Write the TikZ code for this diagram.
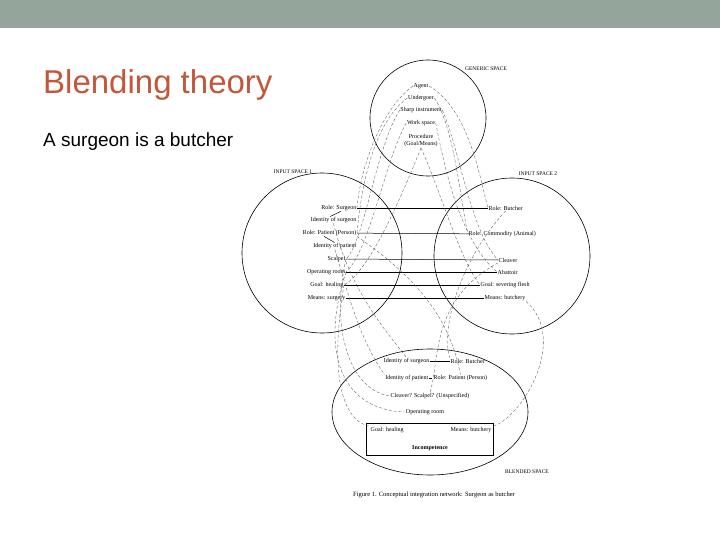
\documentclass[tikz,border=0pt]{standalone}
\usepackage{fontspec}
\usetikzlibrary{shapes.geometric,calc}
\setmainfont{Liberation Serif}
\newfontfamily\sansf{Liberation Sans}
\definecolor{band}{RGB}{148,166,155}
\definecolor{ttl}{RGB}{196,86,58}
\begin{document}
\begin{tikzpicture}[x=1pt,y=-1pt,
  lab/.style={font=\fontsize{6}{7}\selectfont, inner sep=0.5pt},
  spacelabel/.style={font=\fontsize{5.5}{6}\selectfont, inner sep=0pt},
  space/.style={draw, line width=0.6pt},
  conn/.style={line width=0.5pt},
  dconn/.style={densely dashed, line width=0.35pt, gray!70!black}]
\useasboundingbox (0,0) rectangle (720,540);
\fill[band] (0,0) rectangle (720,28);
\node[anchor=west, text=ttl, font=\sansf\fontsize{33}{36}\selectfont, inner sep=0] (title) at (43,85) {Blending theory};
\node[anchor=west, font=\sansf\fontsize{19}{22}\selectfont, inner sep=0] (sub) at (43,142) {A surgeon is a butcher};
% spaces
\node[space, circle, minimum size=116] (G) at (428,118) {};
\node[space, circle, minimum size=160] (I1) at (322,253) {};
\node[space, circle, minimum size=156] (I2) at (512,256) {};
\node[space, ellipse, minimum width=196, minimum height=126] (B) at (430,412) {};
% labels
\node[spacelabel] (gs) at (486,69) {GENERIC SPACE};
\node[spacelabel] (is1) at (293,172) {INPUT SPACE 1};
\node[spacelabel] (is2) at (538,174) {INPUT SPACE 2};
\node[spacelabel] (bs) at (527,472) {BLENDED SPACE};
\node[lab, font=\fontsize{6.5}{7}\selectfont] (fig) at (434,495) {Figure 1. Conceptual integration network: Surgeon as butcher};
% generic
\node[lab] (g1) at (421,86) {Agent};
\node[lab] (g2) at (421,98) {Undergoer};
\node[lab] (g3) at (421,110) {Sharp instrument};
\node[lab] (g4) at (421,123) {Work space};
\node[lab, align=center] (g5) at (421,141) {Procedure\\(Goal/Means)};
% input 1
\node[lab, anchor=east] (a1) at (357,208) {Role: Surgeon};
\node[lab, anchor=east] (a2) at (357,220) {Identity of surgeon};
\node[lab, anchor=east] (a3) at (357,233) {Role: Patient (Person)};
\node[lab, anchor=east] (a4) at (357,246) {Identity of patient};
\node[lab, anchor=east] (a5) at (346,259) {Scalpel};
\node[lab, anchor=east] (a6) at (346,272) {Operating room};
\node[lab, anchor=east] (a7) at (344,285) {Goal: healing};
\node[lab, anchor=east] (a8) at (346,298) {Means: surgery};
\draw[conn] ($(a1.south west)+(20,0)$) -- ($(a2.north west)+(20,0)$);
\draw[conn] ($(a3.south west)+(22,0)$) -- ($(a4.north west)+(22,0)$);
% input 2
\node[lab, anchor=west] (b1) at (488,208) {Role: Butcher};
\node[lab, anchor=west] (b2) at (468,234) {Role: Commodity (Animal)};
\node[lab, anchor=west] (b3) at (498,260) {Cleaver};
\node[lab, anchor=west] (b4) at (497,272) {Abattoir};
\node[lab, anchor=west] (b5) at (480,285) {Goal: severing flesh};
\node[lab, anchor=west] (b6) at (484,298) {Means: butchery};
% cross-space mappings
\draw[conn] (a1) -- (b1);
\draw[conn] (a3) -- (b2);
\draw[conn] (a5) -- (b3);
\draw[conn] (a6) -- (b4);
\draw[conn] (a7) -- (b5);
\draw[conn] (a8) -- (b6);
% blended
\node[lab, anchor=east] (c1) at (430,361) {Identity of surgeon};
\node[lab, anchor=west] (c2) at (450,361) {Role: Butcher};
\node[lab, anchor=east] (c3) at (429,378) {Identity of patient};
\node[lab, anchor=west] (c4) at (433,378) {Role: Patient (Person)};
\node[lab] (c5) at (430,396) {Cleaver? Scalpel? (Unspecified)};
\node[lab] (c6) at (425,412) {Operating room};
\node[draw, line width=0.6pt, minimum width=127, minimum height=32] (box) at (430,439) {};
\node[lab, anchor=west] (c7) at (370,430) {Goal: healing};
\node[lab, anchor=east] (c8) at (492,430) {Means: butchery};
\node[lab, font=\bfseries\fontsize{6}{7}\selectfont] (c9) at (430,448) {Incompetence};
\draw[conn] (c1) -- (c2);
\draw[conn, dashed] (c3) -- (c4);
% generic to inputs
\draw[dconn] (g1.east) .. controls (470,110) and (480,180) .. (b1.west);
\draw[dconn] (g1.west) .. controls (380,110) and (360,170) .. (a1.east);
\draw[dconn] (g2.east) .. controls (455,130) and (460,200) .. (b2.west);
\draw[dconn] (g2.west) .. controls (370,125) and (360,200) .. (a3.east);
\draw[dconn] (g3.east) .. controls (460,150) and (470,230) .. (b3.west);
\draw[dconn] (g3.west) .. controls (375,150) and (365,240) .. (a5.east);
\draw[dconn] (g4.east) .. controls (445,170) and (460,240) .. (b4.west);
\draw[dconn] (g4.west) .. controls (385,160) and (370,250) .. (a6.east);
\draw[dconn] (g5.south) .. controls (440,190) and (460,260) .. (b5.west);
\draw[dconn] (g5.south) .. controls (400,200) and (370,270) .. (a7.east);
% inputs to blend
\draw[dconn] (a2.south) .. controls (350,290) and (385,330) .. (c1.north);
\draw[dconn] (a4.south) .. controls (350,300) and (360,340) .. (c3.north west);
\draw[dconn] (b1.south) .. controls (460,260) and (440,330) .. (c2.north west);
\draw[dconn] (a3.south east) .. controls (420,280) and (450,320) .. (c4.north);
\draw[dconn] (a5.east) .. controls (330,330) and (350,390) .. (c5.west);
\draw[dconn] (b3.south west) .. controls (430,300) and (440,360) .. (c5.north);
\draw[dconn] (a6.east) .. controls (320,350) and (340,410) .. (c6.west);
\draw[dconn] (a7.east) .. controls (330,370) and (340,420) .. (c7.north west);
\draw[dconn] (b6.south east) .. controls (570,340) and (520,420) .. (c8.north east);
\end{tikzpicture}
\end{document}
